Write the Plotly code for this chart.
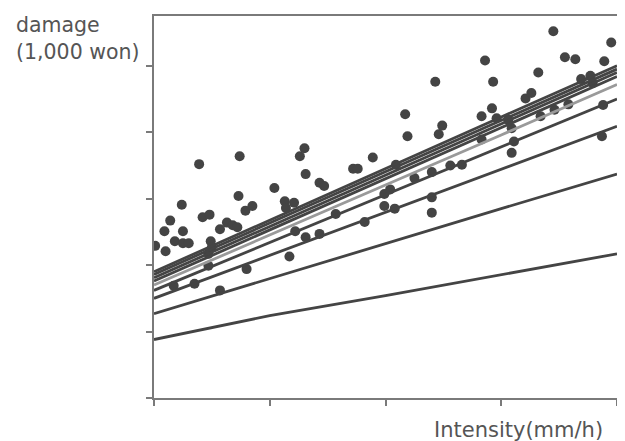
import plotly.graph_objects as go

obs_x = [0.01, 0.09, 0.10, 0.14, 0.18, 0.24, 0.25, 0.25, 0.30, 0.39, 0.42, 0.48, 0.49, 0.47,
         0.57, 0.63, 0.68, 0.72, 0.74, 0.73, 0.79, 0.80, 0.85, 1.04, 1.13, 1.17, 1.21, 1.22,
         1.26, 1.30, 1.31, 1.31, 1.43, 1.47, 1.43, 1.57, 1.72, 1.76, 1.82, 1.89, 1.99, 1.99,
         2.04, 2.08, 2.09, 2.17, 2.19, 2.25, 2.40, 2.40, 2.40, 2.43, 2.46, 2.49, 2.56, 2.66,
         2.83, 2.83, 2.86, 2.93, 2.92, 2.96, 3.06, 3.09, 3.09, 3.11, 3.21, 3.26, 3.32, 3.34,
         3.46, 3.45, 3.55, 3.58, 3.64, 3.69, 3.77, 3.79, 3.87, 3.88, 3.89, 3.95,
         0.17, 0.35, 0.57, 0.47, 0.50, 1.14]
obs_y = [2.29, 2.51, 2.21, 2.67, 2.36, 2.91, 2.51, 2.33, 2.33, 3.52, 2.72, 2.76, 2.36, 1.99,
         2.54, 2.64, 2.60, 2.57, 3.64, 3.04, 2.82, 1.94, 2.89, 3.16, 2.96, 2.13, 2.94, 2.51,
         3.64, 3.76, 3.37, 2.42, 3.24, 3.19, 2.47, 2.77, 3.45, 3.45, 2.65, 3.62, 3.07, 2.89,
         3.14, 2.85, 3.51, 4.27, 3.94, 3.31, 3.40, 3.02, 2.79, 4.76, 3.97, 4.10, 3.50, 3.51,
         4.24, 3.89, 5.08, 4.76, 4.36, 4.21, 4.19, 3.69, 4.06, 3.86, 4.51, 4.59, 4.90, 4.24,
         4.34, 5.52, 5.13, 4.42, 5.10, 4.80, 4.85, 4.74, 3.94, 4.41, 5.07, 5.35,
         1.69, 1.72, 1.62, 2.17, 2.27, 2.86]

# Fitted curves, sampled at these intensities
curve_x = [0, 1, 2, 3, 4]
curve_1 = [0.88, 1.24, 1.54, 1.86, 2.17]
curve_2 = [1.27, 1.80, 2.32, 2.85, 3.37]
curve_3 = [1.50, 2.15, 2.80, 3.44, 4.09]
curve_4 = [1.62, 2.34, 3.06, 3.78, 4.50]
curve_5 = [1.70, 2.45, 3.21, 3.96, 4.72]
curve_6 = [1.76, 2.53, 3.30, 4.07, 4.84]
curve_7 = [1.81, 2.58, 3.36, 4.13, 4.90]
curve_8 = [1.86, 2.63, 3.41, 4.18, 4.95]
curve_9 = [1.90, 2.68, 3.45, 4.23, 5.00]

x_ticks = [0, 1, 2, 3, 4]
y_ticks = [0, 1, 2, 3, 4, 5]

fig = go.Figure()
fig.add_trace(go.Scatter(x=obs_x, y=obs_y, mode="markers",
                         marker=dict(size=10, color="#444444"), showlegend=False))

curves = [curve_1, curve_2, curve_3, curve_4, curve_5, curve_6, curve_7, curve_8, curve_9]
colors = ["#444", "#444", "#444", "#444", "#9a9a9a", "#444", "#444", "#444", "#444"]
for c, col in zip(curves, colors):
    fig.add_trace(go.Scatter(x=curve_x, y=c, mode="lines",
                             line=dict(color=col, width=2.8), showlegend=False))

axis_common = dict(showline=True, linecolor="#7a7a7a", linewidth=2, mirror=True,
                   ticks="outside", ticklen=6, tickwidth=1.5, tickcolor="#7a7a7a",
                   showticklabels=False, showgrid=False, zeroline=False)

fig.update_xaxes(range=[0, 4], tickvals=x_ticks, **axis_common)
fig.update_yaxes(range=[0, 5.75], tickvals=y_ticks, **axis_common)

# page body adds an 8px margin, so the figure is sized to fit inside the window
fig.update_layout(
    width=617, height=433,
    margin=dict(l=146, r=6, t=6, b=43),
    plot_bgcolor="white", paper_bgcolor="white",
    font=dict(family="DejaVu Sans", color="#555"),
    annotations=[
        dict(text="damage<br>(1,000 won)", xref="paper", yref="paper",
             x=-0.303, y=0.94, xanchor="left", yanchor="middle", align="left",
             showarrow=False, font=dict(size=20.5, color="#555")),
        dict(text="Intensity(mm/h)", xref="paper", yref="paper",
             x=0.974, y=-0.083, xanchor="right", yanchor="middle",
             showarrow=False, font=dict(size=21, color="#555")),
    ],
)

fig.write_html("out.html")
